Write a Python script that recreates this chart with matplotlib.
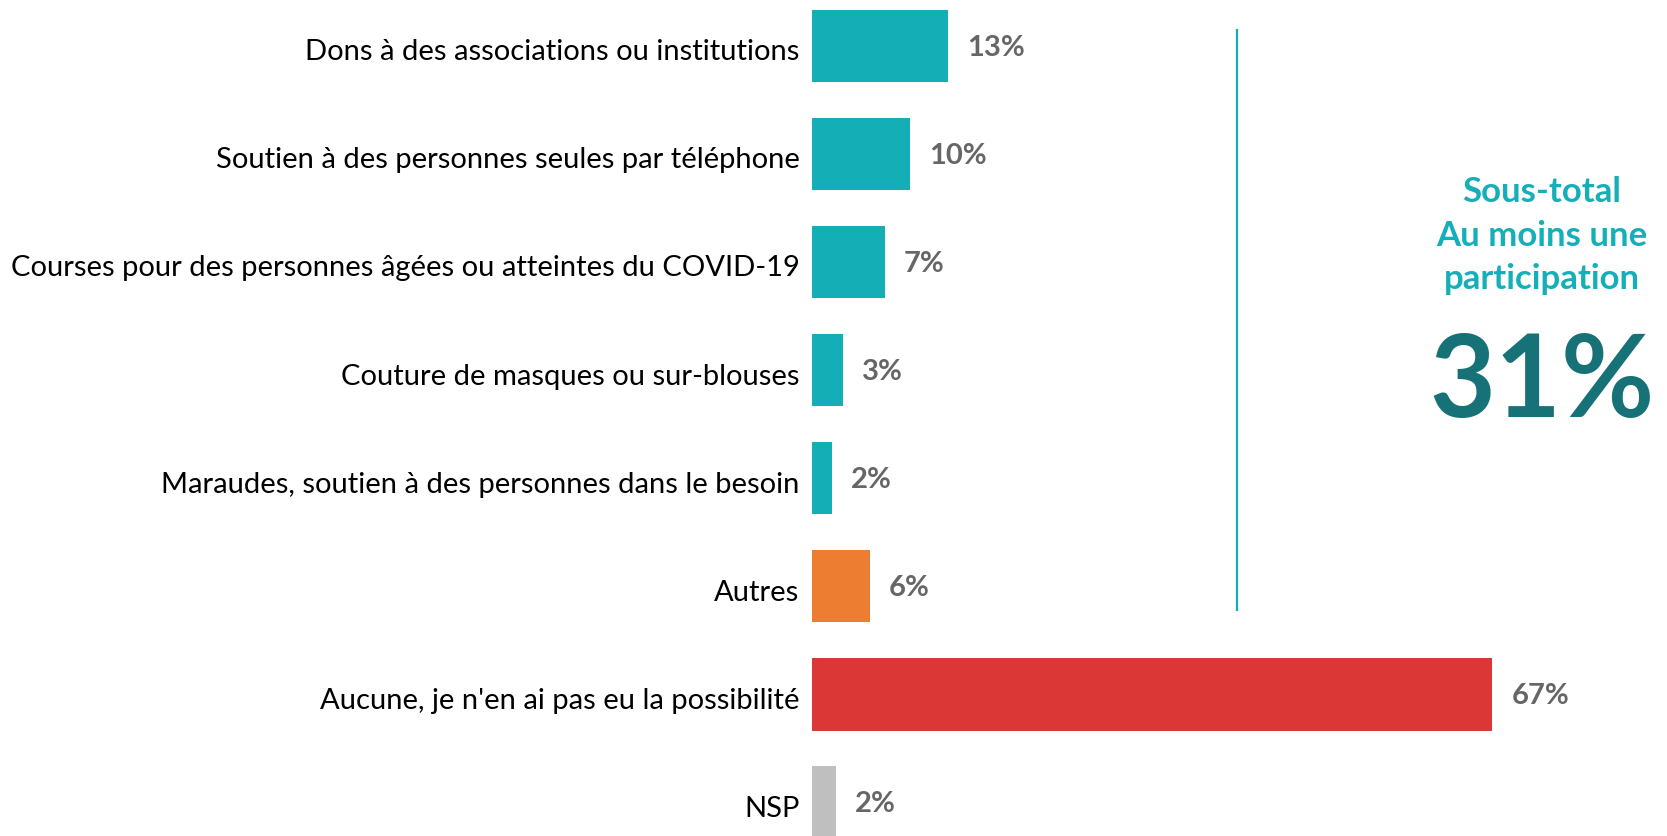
import matplotlib.pyplot as plt
import matplotlib.transforms as mtrans

categories = [
    "Dons à des associations ou institutions",
    "Soutien à des personnes seules par téléphone",
    "Courses pour des personnes âgées ou atteintes du COVID-19",
    "Couture de masques ou sur-blouses",
    "Maraudes, soutien à des personnes dans le besoin",
    "Autres",
    "Aucune, je n'en ai pas eu la possibilité",
    "NSP",
]
values = [13.4, 9.7, 7.2, 3.1, 2.0, 5.7, 67, 2.4]
value_labels = ["13%", "10%", "7%", "3%", "2%", "6%", "67%", "2%"]
bar_colors = ["#13AEB6"] * 5 + ["#ED7D31", "#DC3737", "#BFBFBF"]

subtotal_title = "Sous-total\nAu moins une\nparticipation"
subtotal_value = "31%"

plt.rcParams["font.family"] = ["Lato", "DejaVu Sans"]

fig = plt.figure(figsize=(16.67, 8.36), dpi=100)
ax = fig.add_axes([812 / 1667, 0, 1 - 812 / 1667, 1])

y = list(range(len(categories)))
ax.barh(y, values, color=bar_colors, height=0.67)
ax.set_ylim(7.31, -0.423)
ax.set_xlim(0, 84.2)

ax.set_yticks(y)
ax.set_yticklabels(categories, fontsize=21, color="black")
ax.tick_params(axis="y", length=0, pad=9)
ax.set_xticks([])
for s in ax.spines.values():
    s.set_visible(False)

# nudge category labels down a little
shift = mtrans.ScaledTranslation(0, -4 / 100, fig.dpi_scale_trans)
for lab in ax.get_yticklabels():
    lab.set_transform(lab.get_transform() + shift)

for yi, v, lab in zip(y, values, value_labels):
    ax.annotate(lab, (v, yi), xytext=(19, -2), textcoords="offset pixels",
                va="center", ha="left", fontsize=21, fontweight="bold", color="#666666")

ax.axvline(41.9, ymin=0.270, ymax=0.964, color="#13AEB6", lw=1.6)

fig.text(0.925, 0.718, subtotal_title, ha="center", va="center", fontsize=25,
         fontweight="bold", color="#14AFB8", linespacing=1.45)
fig.text(0.925, 0.541, subtotal_value, ha="center", va="center", fontsize=82,
         fontweight="bold", color="#177277")

fig.savefig("out.png", dpi=100)
